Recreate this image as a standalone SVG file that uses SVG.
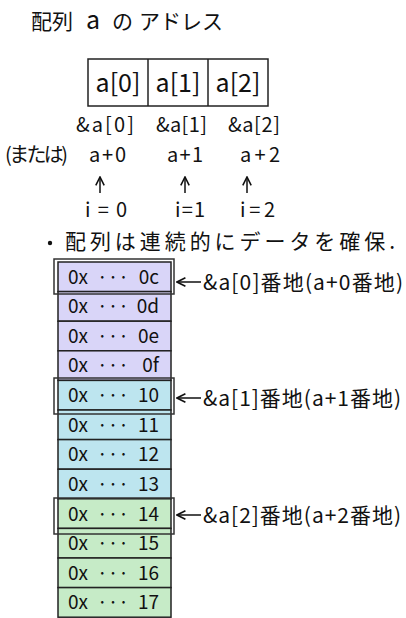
<svg xmlns="http://www.w3.org/2000/svg" width="406" height="618" viewBox="0 0 406 618">
<defs>
<style>
text{font-family:"Noto Sans CJK JP","Noto Sans",sans-serif;fill:#111;}
.t{font-size:21px;}
.m{font-size:19px;}
.c{stroke:#222;stroke-width:1.5;}
.p{fill:#d9d5f8;}
.b{fill:#bde5ef;}
.g{fill:#c6ebc7;}
.hl{fill:none;stroke:#333;stroke-width:1.5;}
.ar{fill:none;stroke:#111;stroke-width:1.5;marker-end:url(#ah);}
</style>
<marker id="ah" viewBox="0 0 10 10" refX="9" refY="5" markerWidth="7" markerHeight="7" orient="auto">
<path d="M1,1 L9,5 L1,9" fill="none" stroke="#111" stroke-width="1.5"/>
</marker>
</defs>
<rect width="406" height="618" fill="#fff"/>
<g id="title" class="t">
<text x="31" y="29">配列</text>
<text x="86" y="29" font-size="25">a</text>
<text x="112" y="29">の</text>
<text x="139" y="29">アドレス</text>
</g>

<g id="array">
<rect x="88" y="59" width="180" height="47" fill="#fff" stroke="#222" stroke-width="1.5"/>
<line x1="148" y1="59" x2="148" y2="106" class="c"/>
<line x1="208" y1="59" x2="208" y2="106" class="c"/>
<text x="118" y="92" font-size="25" text-anchor="middle">a[0]</text>
<text x="178" y="92" font-size="25" text-anchor="middle">a[1]</text>
<text x="238" y="92" font-size="25" text-anchor="middle">a[2]</text>
</g>

<g id="addr-labels" font-size="20">
<text x="76" y="132" textLength="58">&amp;a[0]</text>
<text x="156" y="132" textLength="51">&amp;a[1]</text>
<text x="228" y="132" textLength="52">&amp;a[2]</text>
<text x="5" y="162" textLength="63">(または)</text>
<text x="89" y="162" textLength="37">a+0</text>
<text x="167" y="162" textLength="36">a+1</text>
<text x="240" y="162" textLength="40">a+2</text>
<text x="85" y="217" textLength="42">i=0</text>
<text x="175" y="217" textLength="30">i=1</text>
<text x="240" y="217" textLength="35">i=2</text>
</g>

<g id="note">
<circle cx="50" cy="243" r="2.2" fill="#111"/>
<text x="65" y="249" font-size="21" textLength="330">配列は連続的にデータを確保.</text>
</g>

<g id="memory">
<rect x="58" y="262" width="113" height="29.6" class="c p"/>
<rect x="58" y="291.6" width="113" height="29.6" class="c p"/>
<rect x="58" y="321.2" width="113" height="29.6" class="c p"/>
<rect x="58" y="350.8" width="113" height="29.6" class="c p"/>
<rect x="58" y="380.4" width="113" height="29.6" class="c b"/>
<rect x="58" y="410" width="113" height="29.6" class="c b"/>
<rect x="58" y="439.6" width="113" height="29.6" class="c b"/>
<rect x="58" y="469.2" width="113" height="29.6" class="c b"/>
<rect x="58" y="498.8" width="113" height="29.6" class="c g"/>
<rect x="58" y="528.4" width="113" height="29.6" class="c g"/>
<rect x="58" y="558" width="113" height="29.6" class="c g"/>
<rect x="58" y="587.6" width="113" height="29.6" class="c g"/>
<g class="m">
<text x="68" y="284">0x</text><text x="113" y="284" text-anchor="middle">···</text><text x="159" y="284" text-anchor="end">0c</text>
<text x="68" y="313">0x</text><text x="113" y="313" text-anchor="middle">···</text><text x="159" y="313" text-anchor="end">0d</text>
<text x="68" y="343">0x</text><text x="113" y="343" text-anchor="middle">···</text><text x="159" y="343" text-anchor="end">0e</text>
<text x="68" y="372">0x</text><text x="113" y="372" text-anchor="middle">···</text><text x="159" y="372" text-anchor="end">0f</text>
<text x="68" y="402">0x</text><text x="113" y="402" text-anchor="middle">···</text><text x="159" y="402" text-anchor="end">10</text>
<text x="68" y="432">0x</text><text x="113" y="432" text-anchor="middle">···</text><text x="159" y="432" text-anchor="end">11</text>
<text x="68" y="461">0x</text><text x="113" y="461" text-anchor="middle">···</text><text x="159" y="461" text-anchor="end">12</text>
<text x="68" y="491">0x</text><text x="113" y="491" text-anchor="middle">···</text><text x="159" y="491" text-anchor="end">13</text>
<text x="68" y="521">0x</text><text x="113" y="521" text-anchor="middle">···</text><text x="159" y="521" text-anchor="end">14</text>
<text x="68" y="550">0x</text><text x="113" y="550" text-anchor="middle">···</text><text x="159" y="550" text-anchor="end">15</text>
<text x="68" y="580">0x</text><text x="113" y="580" text-anchor="middle">···</text><text x="159" y="580" text-anchor="end">16</text>
<text x="68" y="609">0x</text><text x="113" y="609" text-anchor="middle">···</text><text x="159" y="609" text-anchor="end">17</text>
</g>
<rect x="54" y="259" width="120" height="35" class="hl"/>
<rect x="54" y="378" width="120" height="36" class="hl"/>
<rect x="54" y="498" width="120" height="36" class="hl"/>
</g>

<g id="pointer-labels" font-size="21">
<text x="203" y="290" textLength="200">&amp;a[0]番地(a+0番地)</text>
<text x="203" y="406" textLength="198">&amp;a[1]番地(a+1番地)</text>
<text x="203" y="523" textLength="198">&amp;a[2]番地(a+2番地)</text>
</g>

<g id="connectors">
<path d="M100,193 L100,177" class="ar"/>
<path d="M185,193 L185,177" class="ar"/>
<path d="M247,193 L247,177" class="ar"/>
<path d="M201,282 L177,282" class="ar"/>
<path d="M201,398 L177,398" class="ar"/>
<path d="M201,515 L177,515" class="ar"/>
</g>
</svg>
